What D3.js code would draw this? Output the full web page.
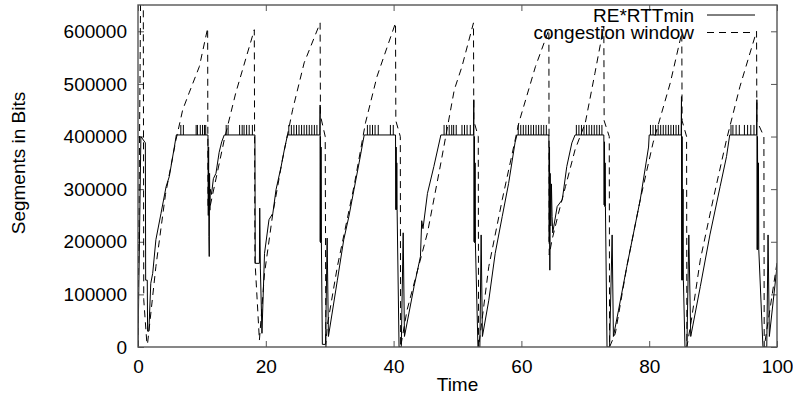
<!DOCTYPE html>
<html>
<head>
<meta charset="utf-8">
<script src="https://cdn.jsdelivr.net/npm/d3@7"></script>
<style>
    body { margin: 0; background: #fff; }
    text { font-family: "Liberation Sans", Arial, Helvetica, sans-serif; fill: #000; }
</style>
</head>
<body>
<div id="chart"></div>
<script>
const xTicks = [0, 20, 40, 60, 80, 100];
const yTicks = [0, 100000, 200000, 300000, 400000, 500000, 600000];
const seriesNames = ['RE*RTTmin', 'congestion window'];

// RE*RTTmin, [time, bits]
const rttPoints = [
    [0, 0], [0.45, 400000], [1.15, 388000], [1.2, 127000], [1.45, 127000], [1.5, 30000], [1.7, 30000],
    [2.0, 121000], [2.3, 140000], [2.8, 204000], [3.6, 254000], [4.4, 305000], [4.9, 324000], [5.7, 381000], [6.0, 403000],
    [10.95, 403000], [11.0, 250000], [11.05, 380000], [11.1, 210000], [11.15, 172000], [11.2, 330000], [11.25, 260000],
    [11.3, 300000], [11.5, 290000], [11.8, 320000], [12.2, 330000], [12.7, 370000], [13.1, 390000], [13.5, 403000],
    [18.3, 403000], [18.35, 159000], [19.0, 159000], [19.05, 264000], [19.15, 150000], [19.4, 26000], [19.8, 178000],
    [20.5, 242000], [21.1, 254000], [21.6, 299000], [22.4, 343000], [22.9, 375000], [23.4, 403000],
    [28.45, 403000], [28.5, 460000], [28.52, 200000], [28.55, 400000], [28.6, 198000], [28.65, 380000], [28.7, 198000],
    [28.85, 5000], [29.35, 5000], [29.6, 207000], [29.8, 20000], [31.2, 127000], [32.2, 204000], [33.0, 248000],
    [33.8, 299000], [34.6, 350000], [35.4, 403000],
    [40.3, 403000], [40.35, 261000], [40.4, 380000], [40.45, 261000], [40.5, 350000], [40.55, 261000], [40.85, 0],
    [41.2, 0], [41.5, 217000], [41.7, 20000], [43.2, 115000], [44.2, 172000], [44.4, 240000], [44.6, 225000],
    [45.3, 292000], [46.3, 343000], [47.4, 403000],
    [52.5, 403000], [52.55, 470000], [52.6, 200000], [52.65, 400000], [52.7, 198000], [52.75, 350000], [52.8, 198000],
    [53.2, 0], [53.5, 0], [53.7, 213000], [53.9, 20000], [54.9, 89000], [55.9, 178000], [57.0, 248000], [58.0, 311000],
    [59.0, 388000], [59.3, 403000],
    [64.3, 403000], [64.35, 200000], [64.4, 380000], [64.45, 146000], [64.5, 330000], [64.6, 230000], [64.7, 310000],
    [64.8, 248000], [64.9, 217000], [65.6, 267000], [66.4, 280000], [67.1, 343000], [67.9, 388000], [68.4, 403000],
    [72.9, 403000], [72.95, 270000], [73.0, 390000], [73.05, 267000], [73.1, 350000], [73.15, 267000], [73.4, 0],
    [73.8, 0], [74.2, 213000], [74.4, 20000], [75.2, 70000], [76.5, 153000], [78.6, 280000], [79.9, 380000], [80.0, 403000],
    [85.0, 403000], [85.05, 476000], [85.1, 127000], [85.15, 400000], [85.2, 127000], [85.3, 300000], [85.35, 127000],
    [85.6, 0], [85.9, 0], [86.2, 213000], [86.5, 20000], [88.0, 115000], [89.5, 213000], [91.1, 305000], [92.1, 362000],
    [92.6, 403000],
    [96.8, 403000], [96.85, 470000], [96.9, 185000], [96.95, 400000], [97.0, 185000], [97.1, 350000], [97.15, 185000],
    [97.8, 0], [98.4, 0], [98.6, 213000], [98.8, 20000], [100, 153000],
];

// short peaks on top of the flat part of RE*RTTmin
const capValue = 403000;
const spikeTop = 422000;
const spikeTimes = [
    6.7, 7.1, 9.1, 9.3, 9.75, 10.1, 10.4, 10.6,
    13.8, 14.1, 15.9, 16.3, 16.6, 17.0, 17.4, 17.9,
    23.6, 24.0, 24.4, 24.8, 25.2, 25.6, 26.0, 26.4, 26.8, 27.2, 27.6, 28.0,
    35.9, 36.3, 36.7, 37.1, 37.6, 39.5, 39.95,
    47.9, 48.3, 48.7, 49.1, 49.4, 49.8, 50.7, 51.1, 51.5, 52.0,
    59.5, 59.9, 60.3, 60.7, 61.1, 61.5, 61.9, 62.3, 62.7, 63.1, 63.5, 63.9,
    68.6, 69.0, 69.4, 69.8, 70.2, 70.6, 71.0, 71.4, 71.8, 72.2, 72.6,
    80.2, 80.6, 81.0, 81.4, 81.8, 82.2, 82.6, 83.0, 83.4, 83.8, 84.2, 84.6,
    92.8, 93.1, 93.6, 94.1, 94.9, 95.4, 95.9, 96.4,
];

// congestion window, [time, bits]
const cwndPoints = [
    [0, 0], [0.55, 900000], [0.8, 900000], [0.9, 90000], [1.4, 5000],
    [1.5, 7000], [2.8, 153000], [4.3, 290000], [5.95, 394000], [7.0, 451000], [8.0, 483000], [9.6, 533000], [10.9, 606000],
    [10.95, 265000], [11.3, 268000], [13.5, 394000], [15.3, 483000], [18.2, 603000],
    [18.3, 165000], [19.0, 13000], [19.8, 140000], [21.1, 254000], [22.6, 356000], [24.2, 451000], [26.0, 540000], [28.5, 616000],
    [28.55, 440000], [29.3, 400000], [29.4, 0], [29.6, 39000], [31.2, 153000], [33.8, 305000], [35.6, 426000], [37.4, 514000], [40.3, 616000],
    [40.35, 430000], [41.05, 400000], [41.1, 0], [42.1, 70000], [45.3, 217000], [47.4, 350000], [49.5, 489000], [50.7, 533000], [52.5, 616000],
    [52.55, 430000], [53.25, 400000], [53.3, 0], [54.9, 153000], [57.0, 280000], [59.6, 426000], [62.2, 533000], [64.3, 603000],
    [64.35, 175000], [64.8, 204000], [65.8, 254000], [66.9, 305000], [68.4, 375000], [70.0, 426000], [71.5, 520000], [72.9, 610000],
    [72.95, 430000], [73.75, 400000], [73.8, 0], [74.7, 26000], [76.5, 153000], [78.6, 280000], [80.6, 388000], [83.3, 502000], [85.1, 597000],
    [85.15, 430000], [85.85, 400000], [85.9, 0], [86.6, 51000], [88.0, 166000], [90.0, 280000], [92.1, 394000], [94.2, 495000], [96.8, 600000],
    [96.85, 430000], [97.95, 400000], [98.0, 0], [99.0, 80000], [100, 160000],
];

const width = 793;
const height = 402;
const margin = { top: 5, right: 16, bottom: 55, left: 138 };
const frameColor = '#555';
const fontSize = 19;

const svg = d3.select('#chart').append('svg')
    .attr('width', width)
    .attr('height', height);

const x = d3.scaleLinear().domain([0, 100]).range([margin.left, width - margin.right]);
const y = d3.scaleLinear().domain([0, 650000]).range([height - margin.bottom, margin.top]);

svg.append('clipPath')
    .attr('id', 'plotClip')
    .append('rect')
        .attr('x', x(0))
        .attr('y', y(650000))
        .attr('width', x(100) - x(0))
        .attr('height', y(0) - y(650000));

// axes, ticks point inward and are mirrored on top / right
const styleAxis = (g) => {
    g.select('.domain').remove();
    g.selectAll('.tick line').attr('stroke', frameColor).attr('stroke-width', 1);
    g.selectAll('.tick text').attr('font-size', fontSize).attr('font-family', null).attr('fill', '#000');
};

svg.append('g')
    .attr('transform', `translate(${x(0)},0)`)
    .call(d3.axisLeft(y).tickValues(yTicks).tickSize(-6).tickPadding(11).tickFormat(d3.format('d')))
    .call(styleAxis);

svg.append('g')
    .attr('transform', `translate(${x(100)},0)`)
    .call(d3.axisRight(y).tickValues(yTicks).tickSize(-6).tickFormat(''))
    .call(styleAxis);

svg.append('g')
    .attr('transform', `translate(0,${y(0)})`)
    .call(d3.axisBottom(x).tickValues(xTicks).tickSize(-6).tickPadding(13))
    .call(styleAxis);

svg.append('g')
    .attr('transform', `translate(0,${y(650000)})`)
    .call(d3.axisTop(x).tickValues(xTicks).tickSize(-6).tickFormat(''))
    .call(styleAxis);

const line = d3.line()
    .x(d => x(d[0]))
    .y(d => y(d[1]));

const plot = svg.append('g').attr('clip-path', 'url(#plotClip)');

plot.append('path')
    .datum(cwndPoints)
    .attr('fill', 'none')
    .attr('stroke', '#000')
    .attr('stroke-width', 1)
    .attr('stroke-dasharray', '7,5')
    .attr('d', line);

plot.append('path')
    .datum(rttPoints)
    .attr('fill', 'none')
    .attr('stroke', '#000')
    .attr('stroke-width', 1)
    .attr('d', line);

plot.append('g')
    .selectAll('line')
    .data(spikeTimes)
    .enter()
        .append('line')
            .attr('x1', d => x(d))
            .attr('x2', d => x(d))
            .attr('y1', y(capValue))
            .attr('y2', y(spikeTop))
            .attr('stroke', '#000')
            .attr('stroke-width', 1);

svg.append('rect')
    .attr('x', x(0))
    .attr('y', y(650000))
    .attr('width', x(100) - x(0))
    .attr('height', y(0) - y(650000))
    .attr('fill', 'none')
    .attr('stroke', frameColor)
    .attr('stroke-width', 1.4);

// legend, top right inside the frame
const legend = svg.append('g').attr('font-size', fontSize);
seriesNames.forEach((name, i) => {
    const rowY = 15 + i * 17.5;
    legend.append('text')
        .attr('x', 694)
        .attr('y', rowY)
        .attr('dy', '0.35em')
        .attr('text-anchor', 'end')
        .text(name);
    legend.append('line')
        .attr('x1', 707)
        .attr('x2', 755)
        .attr('y1', rowY)
        .attr('y2', rowY)
        .attr('stroke', '#000')
        .attr('stroke-width', 1)
        .attr('stroke-dasharray', i === 1 ? '7,5' : null);
});

svg.append('text')
    .attr('x', (x(0) + x(100)) / 2)
    .attr('y', 391)
    .attr('text-anchor', 'middle')
    .attr('font-size', fontSize)
    .text('Time');

svg.append('text')
    .attr('transform', 'translate(25,163) rotate(-90)')
    .attr('text-anchor', 'middle')
    .attr('font-size', fontSize)
    .text('Segments in Bits');
</script>
</body>
</html>
